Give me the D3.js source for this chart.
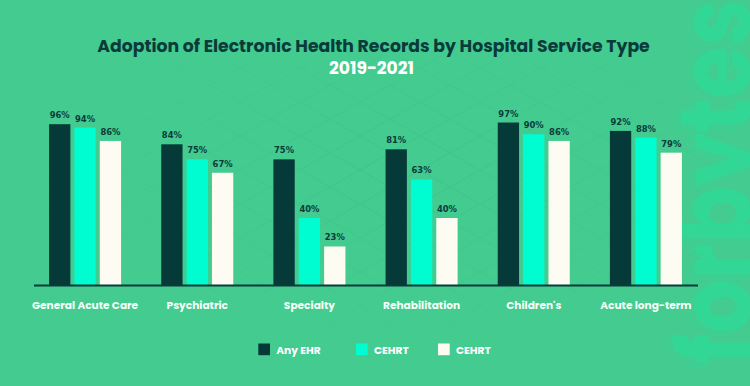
<!DOCTYPE html>
<html><head><meta charset="utf-8">
<script src="https://cdn.jsdelivr.net/npm/d3@7"></script>
<style>html,body{margin:0;padding:0;background:#43cb90;overflow:hidden}</style>
</head><body>
<svg id="chart" width="750" height="386"></svg>
<script>
const categories = ["General Acute Care","Psychiatric","Specialty","Rehabilitation","Children's","Acute long-term"];
const seriesNames = ["Any EHR","CEHRT","CEHRT"];
const anyEHR = [96,84,75,81,97,92];
const cehrt1 = [94,75,40,63,90,88];
const cehrt2 = [86,67,23,40,86,79];
const seriesValues = [anyEHR, cehrt1, cehrt2];
const colors = ["#063a39","#00fdd2","#fdfcf3"];
const title = "Adoption of Electronic Health Records by Hospital Service Type";
const subtitle = "2019-2021";

const W = 750, H = 386;
const svg = d3.select("#chart");
const dark = "#0a3b3a";

// background
svg.append("rect").attr("width",W).attr("height",H).attr("fill","#43cb90");

// faint diamond pattern
const defs = svg.append("defs");
const pat = defs.append("pattern").attr("id","dia").attr("patternUnits","userSpaceOnUse")
  .attr("width",60).attr("height",34);
pat.append("path").attr("d","M0,0 L60,34 M60,0 L0,34").attr("stroke","#3bbf86").attr("stroke-width",1).attr("fill","none");
const rg = defs.append("radialGradient").attr("id","fade").attr("cx","0.55").attr("cy","0.45").attr("r","0.5");
rg.append("stop").attr("offset","0").attr("stop-color","#fff").attr("stop-opacity",0.9);
rg.append("stop").attr("offset","1").attr("stop-color","#fff").attr("stop-opacity",0);
const mask = defs.append("mask").attr("id","m");
mask.append("rect").attr("width",W).attr("height",H).attr("fill","url(#fade)");
svg.append("rect").attr("width",W).attr("height",H).attr("fill","url(#dia)").attr("mask","url(#m)").attr("opacity",0.7);

// watermark (vertical brand text, cropped by the right edge as in the original)
const wm = svg.append("g").attr("transform","translate(751,-1) rotate(-90)");
const wmFont = "Poppins, 'DejaVu Sans', sans-serif";
wm.append("text").text("forbytes").attr("text-anchor","end").attr("font-family",wmFont).attr("font-weight",700)
  .attr("font-size",100).attr("textLength",365).attr("lengthAdjust","spacingAndGlyphs")
  .attr("fill","#2edb98").attr("opacity",0.8);
wm.append("text").text("forbytes").attr("text-anchor","end").attr("x",-4).attr("y",-4).attr("font-family",wmFont).attr("font-weight",700)
  .attr("font-size",100).attr("textLength",365).attr("lengthAdjust","spacingAndGlyphs")
  .attr("fill","none").attr("stroke","#2edb98").attr("stroke-width",1).attr("opacity",0.6);

function fitText(sel, target){
  const node = sel.node();
  let fs = parseFloat(sel.attr("font-size"));
  const w = node.getComputedTextLength();
  if (w>0) sel.attr("font-size", fs*target/w);
}

// title
const t1 = svg.append("text").attr("x",373.5).attr("y",52).attr("text-anchor","middle")
  .attr("font-family","Poppins, 'DejaVu Sans', sans-serif").attr("font-weight",700).attr("font-size",16)
  .attr("fill",dark).text(title);
fitText(t1, 553);
const t2 = svg.append("text").attr("x",371.5).attr("y",74).attr("text-anchor","middle")
  .attr("font-family","Poppins, 'DejaVu Sans', sans-serif").attr("font-weight",700).attr("font-size",16)
  .attr("fill","#ffffff").text(subtitle);
fitText(t2, 85);

// scales
const x0 = d3.scaleBand().domain(categories).range([29,702]).paddingInner(0.358).paddingOuter(0.179);
const x1 = d3.scaleBand().domain(d3.range(3)).range([0,x0.bandwidth()]).paddingInner(0.16);
const y = d3.scaleLinear().domain([0,100]).range([285,117.5]);

// bars
const groups = svg.append("g").selectAll("g").data(categories).join("g")
  .attr("transform",c=>`translate(${x0(c)},0)`);
groups.each(function(c,ci){
  const g = d3.select(this);
  const data = seriesValues.map((s,si)=>({si, v:s[ci]}));
  g.selectAll("rect").data(data).join("rect")
    .attr("x",d=>x1(d.si)).attr("width",x1.bandwidth())
    .attr("y",d=>y(d.v)).attr("height",d=>y(0)-y(d.v))
    .attr("fill",d=>colors[d.si]);
  g.selectAll("text").data(data).join("text")
    .attr("x",d=>x1(d.si)+x1.bandwidth()/2).attr("y",d=>y(d.v)-6)
    .attr("text-anchor","middle").attr("font-family","'DejaVu Sans', sans-serif").attr("font-weight",700)
    .attr("font-size",8.4).attr("fill",dark).text(d=>d.v+"%");
});

// axis line
svg.append("line").attr("x1",34).attr("x2",698).attr("y1",285.5).attr("y2",285.5)
  .attr("stroke",dark).attr("stroke-width",2);

// x axis labels
const xa = svg.append("g").attr("transform","translate(0,309)")
  .call(d3.axisBottom(x0).tickSize(0).tickPadding(0));
xa.select(".domain").remove();
xa.selectAll("text").attr("font-family","Poppins, 'DejaVu Sans', sans-serif").attr("font-weight",700)
  .attr("font-size",10.6).attr("fill","#f4fff8").attr("dy",0).attr("y",0);

// legend
const legX = [258.3, 356, 438];
const leg = svg.append("g").selectAll("g").data(seriesNames).join("g")
  .attr("transform",(d,i)=>`translate(${legX[i]},343.5)`);
leg.append("rect").attr("width",11.7).attr("height",11.7).attr("fill",(d,i)=>colors[i]);
leg.append("text").attr("x",18).attr("y",10.5).attr("font-family","Poppins, 'DejaVu Sans', sans-serif")
  .attr("font-weight",700).attr("font-size",10.6).attr("fill","#ffffff").text(d=>d);
</script>
</body></html>
